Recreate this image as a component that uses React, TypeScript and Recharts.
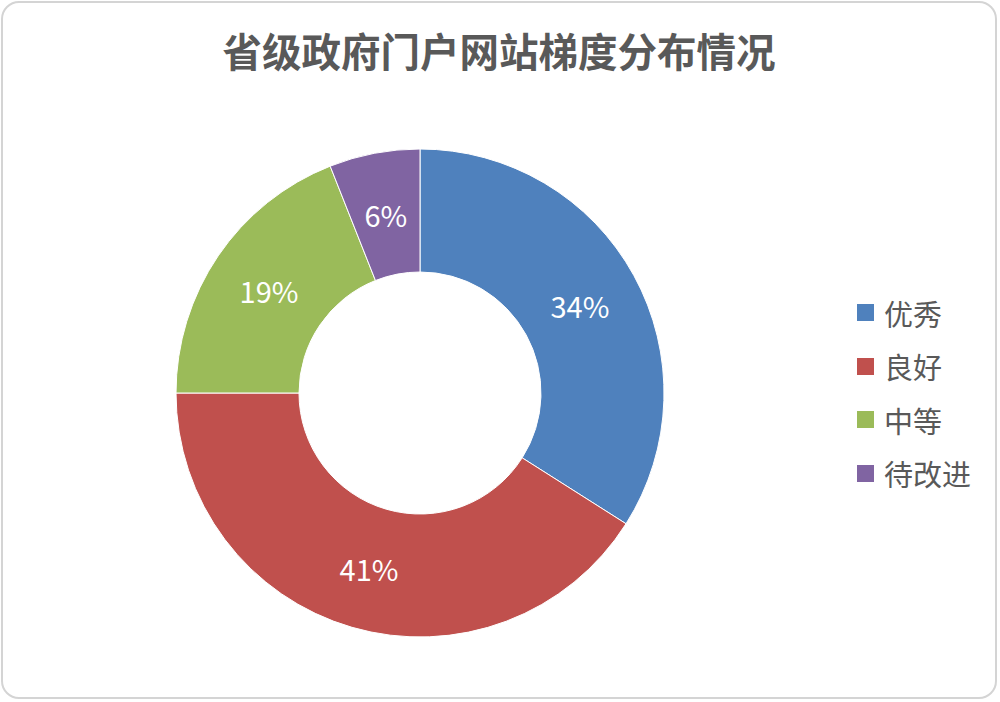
import React from 'react';
import { PieChart, Pie, Cell, Legend } from 'recharts';

const categories = ['优秀', '良好', '中等', '待改进'];
const shares = [34, 41, 19, 6];
const colors = ['#4F81BD', '#C0504D', '#9BBB59', '#8064A2'];
const title = '省级政府门户网站梯度分布情况';

const FONT = '"Noto Sans CJK SC", "Noto Sans", sans-serif';

const data = categories.map((name, i) => ({ name, value: shares[i] }));

const RADIAN = Math.PI / 180;

function renderLabel(props: any) {
  const { cx, cy, midAngle, innerRadius, outerRadius, value } = props;
  const r = (innerRadius + outerRadius) / 2;
  const x = cx + r * Math.cos(-midAngle * RADIAN);
  const y = cy + r * Math.sin(-midAngle * RADIAN);
  return (
    <text
      x={x}
      y={y}
      fill="#fff"
      fontSize={29}
      fontFamily={FONT}
      textAnchor="middle"
      dominantBaseline="central"
    >
      {value}%
    </text>
  );
}

function LegendBox() {
  return (
    <div style={{ fontFamily: FONT }}>
      {data.map((d, i) => (
        <div key={d.name} style={{ display: 'flex', alignItems: 'center', height: 53.5 }}>
          <div style={{ width: 17, height: 17, backgroundColor: colors[i], marginRight: 10 }} />
          <span style={{ fontSize: 29, color: '#595959' }}>{d.name}</span>
        </div>
      ))}
    </div>
  );
}

export default function App() {
  return (
    <div
      style={{
        position: 'absolute',
        left: 0,
        top: 0,
        width: 1000,
        height: 702,
        background: '#fff',
      }}
    >
      <div
        style={{
          position: 'absolute',
          left: 1,
          top: 1,
          width: 996,
          height: 698,
          border: '2px solid #d4d4d4',
          borderRadius: 18,
          boxSizing: 'border-box',
        }}
      />
      <div
        style={{
          position: 'absolute',
          top: 20,
          left: 0,
          width: 998,
          textAlign: 'center',
          fontFamily: FONT,
          fontWeight: 'bold',
          fontSize: 39.5,
          lineHeight: '60px',
          color: '#595959',
        }}
      >
        {title}
      </div>
      <PieChart
        width={1000}
        height={702}
        margin={{ top: 0, right: 0, bottom: 0, left: 0 }}
        style={{ position: 'absolute', left: 0, top: 0 }}
      >
        <Pie
          data={data}
          dataKey="value"
          nameKey="name"
          cx={420}
          cy={393}
          innerRadius={121}
          outerRadius={244}
          startAngle={90}
          endAngle={-270}
          stroke="#fff"
          strokeWidth={1}
          label={renderLabel}
          labelLine={false}
          isAnimationActive={false}
        >
          {data.map((d, i) => (
            <Cell key={d.name} fill={colors[i]} />
          ))}
        </Pie>
        <Legend
          layout="vertical"
          align="right"
          verticalAlign="top"
          content={() => <LegendBox />}
          wrapperStyle={{ left: 857, top: 286, width: 140 }}
        />
      </PieChart>
    </div>
  );
}
